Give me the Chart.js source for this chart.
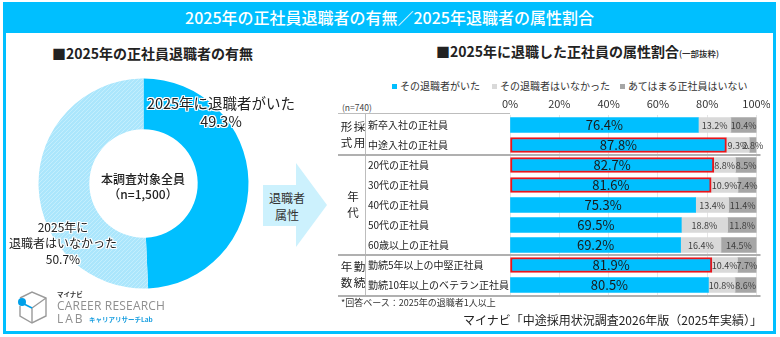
<!DOCTYPE html>
<html lang="ja">
<head>
<meta charset="utf-8">
<script src="https://cdn.jsdelivr.net/npm/chart.js@4"></script>
<style>
  body { margin: 0; width: 780px; height: 337px; position: relative; overflow: hidden; background: #fff;
         font-family: "Noto Sans CJK JP", "Noto Sans", sans-serif; color: #222; }
  .abs { position: absolute; white-space: nowrap; }
  .c { transform: translate(-50%, -50%); text-align: center; }
  .halo { text-shadow: 1px 0 #fff, -1px 0 #fff, 0 1px #fff, 0 -1px #fff, 1px 1px #fff, -1px -1px #fff, 1px -1px #fff, -1px 1px #fff; }
  #frame { left: 3px; top: 2px; width: 773px; height: 332px; box-sizing: border-box; border: 3px solid #00BFFF; }
  #titlebar { left: 3px; top: 2px; width: 773px; height: 31px; background: #00BFFF; color: #fff;
              font-size: 16px; font-weight: 500; line-height: 31px; text-align: center; }
  .leg { position: absolute; top: 78px; font-size: 10px; color: #333; line-height: 16px; white-space: nowrap; }
  .leg span.box { display: inline-block; width: 5px; height: 5px; margin-right: 3px; vertical-align: 1px; }
</style>
</head>
<body>
<div id="frame" class="abs"></div>
<div id="titlebar" class="abs">2025年の正社員退職者の有無／2025年退職者の属性割合</div>

<div class="abs" style="left:52px;top:43px;font-size:14px;font-weight:700;">■2025年の正社員退職者の有無</div>
<div class="abs" style="left:436px;top:41px;font-size:14px;font-weight:700;">■2025年に退職した正社員の属性割合<span style="font-size:8.5px;font-weight:500;">(一部抜粋)</span></div>

<canvas id="donut" class="abs" width="217" height="217" style="left:35px;top:75px;"></canvas>
<div id="lblYes" class="abs c halo" style="left:221px;top:112px;font-size:14.5px;line-height:18px;"></div>
<div id="lblNo" class="abs c halo" style="left:63px;top:243px;font-size:12px;line-height:16px;"></div>
<div class="abs c" style="left:143px;top:186px;font-size:12px;font-weight:500;line-height:15px;">本調査対象全員<br>（n=1,500）</div>

<svg class="abs" style="left:260px;top:160px;" width="72" height="92">
  <polygon points="3,25 36,25 36,3 67,45 36,87 36,66 3,66" fill="#CCF1FD"/>
</svg>
<div class="abs c" style="left:287px;top:206px;font-size:12px;line-height:17px;color:#333;">退職者<br>属性</div>

<div id="legend"></div>
<div class="abs" style="left:342px;top:101px;font-size:8.5px;color:#444;">(n=740)</div>
<canvas id="bars" class="abs" width="434" height="206" style="left:336px;top:94px;"></canvas>

<div class="abs" style="left:341px;top:296px;font-size:9px;color:#333;">*回答ベース：2025年の退職者1人以上</div>
<div class="abs" style="right:18px;top:311px;font-size:12px;color:#222;">マイナビ「中途採用状況調査2026年版（2025年実績）」</div>

<svg class="abs" style="left:14px;top:290px;" width="40" height="36">
  <polyline points="6,8 18,2 32,8 32,26 18,33 6,26 6,16" fill="none" stroke="#9a9a9a" stroke-width="1.4"/>
  <polyline points="18,33 18,18 32,8" fill="none" stroke="#9a9a9a" stroke-width="1.4"/>
  <line x1="8" y1="13" x2="18" y2="18" stroke="#00A0E9" stroke-width="1.6"/>
  <circle cx="8" cy="12" r="4" fill="#00A0E9"/>
</svg>
<div class="abs" style="left:57px;top:289px;font-size:6.5px;font-weight:700;color:#333;">マイナビ</div>
<div class="abs" style="left:57px;top:297px;font-size:12px;color:#8f8f8f;letter-spacing:0.2px;font-family:'Open Sans',sans-serif;">CAREER RESEARCH</div>
<div class="abs" style="left:57px;top:310px;font-size:12px;color:#8f8f8f;letter-spacing:2px;font-family:'Open Sans',sans-serif;">LAB</div>
<div class="abs" style="left:89px;top:314px;font-size:6.5px;font-weight:700;color:#1a9fe0;">キャリアリサーチLab</div>

<script>
// donut data
const donutLabels = ['2025年に退職者がいた', '2025年に退職者はいなかった'];
const donutValues = [49.3, 50.7];

// bar data
const categories = ['新卒入社の正社員', '中途入社の正社員', '20代の正社員', '30代の正社員', '40代の正社員',
                    '50代の正社員', '60歳以上の正社員', '勤続5年以上の中堅正社員', '勤続10年以上のベテラン正社員'];
const seriesNames = ['その退職者がいた', 'その退職者はいなかった', 'あてはまる正社員はいない'];
const hadLeaver = [76.4, 87.8, 82.7, 81.6, 75.3, 69.5, 69.2, 81.9, 80.5];
const noLeaver = [13.2, 9.3, 8.8, 10.9, 13.4, 18.8, 16.4, 10.4, 10.8];
const notApplicable = [10.4, 2.8, 8.5, 7.4, 11.4, 11.8, 14.5, 7.7, 8.6];
const highlightRows = [1, 2, 3, 7];
const xTicks = [0, 20, 40, 60, 80, 100];
const groups = [
    { rows: ['形採', '式用'], from: 0, to: 1 },
    { rows: ['年', '代'], from: 2, to: 6 },
    { rows: ['年勤', '数続'], from: 7, to: 8 }
];

const BLUE = '#00BFFF';
const colors = [BLUE, '#D9D9D9', '#A6A6A6'];
const legendLeft = [392, 492, 620];

// donut labels (html text over the canvas)
document.getElementById('lblYes').innerHTML = donutLabels[0] + '<br>' + donutValues[0].toFixed(1) + '%';
document.getElementById('lblNo').innerHTML = donutLabels[1].replace('年に', '年に<br>') + '<br>' + donutValues[1].toFixed(1) + '%';

// legend
const legend = document.getElementById('legend');
seriesNames.forEach((name, i) => {
    legend.innerHTML += `<div class="leg" style="left:${legendLeft[i]}px"><span class="box" style="background:${colors[i]}"></span>${name}</div>`;
});

// light blue hatched fill
function hatchPattern() {
    const c = document.createElement('canvas');
    c.width = 4; c.height = 4;
    const x = c.getContext('2d');
    x.fillStyle = '#ABE6FC';
    x.fillRect(0, 0, 4, 4);
    x.strokeStyle = '#C3EEFD';
    x.lineWidth = 1;
    x.beginPath();
    x.moveTo(0, 4); x.lineTo(4, 0);
    x.stroke();
    return x.createPattern(c, 'repeat');
}

new Chart(document.getElementById('donut'), {
    type: 'doughnut',
    data: {
        labels: donutLabels,
        datasets: [{
            data: donutValues,
            backgroundColor: [BLUE, hatchPattern()],
            borderWidth: 0
        }]
    },
    options: {
        responsive: false,
        animation: false,
        radius: 105,
        cutout: 56,
        plugins: { legend: { display: false }, tooltip: { enabled: false } }
    }
});

// draws separators, group labels and values
const tablePlugin = {
    id: 'tablePlugin',
    afterDatasetsDraw(chart) {
        const ctx = chart.ctx;
        const area = chart.chartArea;
        const y = chart.scales.y;
        const right = area.right + 4;
        ctx.save();

        // values
        chart.data.datasets.forEach((ds, di) => {
            const meta = chart.getDatasetMeta(di);
            meta.data.forEach((bar, i) => {
                const cx = (bar.x + bar.base) / 2;
                ctx.fillStyle = di === 0 ? '#1a1a1a' : '#404040';
                ctx.font = di === 0 ? '13px "Noto Sans CJK JP", sans-serif' : '9px "Noto Sans CJK JP", sans-serif';
                ctx.textAlign = 'center';
                ctx.textBaseline = 'middle';
                ctx.fillText(ds.data[i].toFixed(1) + '%', cx, bar.y + 0.5);
            });
        });

        // lines
        ctx.strokeStyle = '#bdbdbd';
        ctx.lineWidth = 1;
        ctx.beginPath();
        ctx.moveTo(2, area.top - 1.5); ctx.lineTo(area.left, area.top - 1.5);
        ctx.moveTo(29.5, area.top - 1.5); ctx.lineTo(29.5, area.bottom);
        ctx.stroke();

        ctx.strokeStyle = '#b0b0b0';
        ctx.lineWidth = 2;
        ctx.beginPath();
        [1, 6].forEach(i => {
            const yy = Math.round((y.getPixelForValue(i) + y.getPixelForValue(i + 1)) / 2);
            ctx.moveTo(2, yy); ctx.lineTo(right, yy);
        });
        ctx.moveTo(2, area.bottom + 1); ctx.lineTo(right, area.bottom + 1);
        ctx.stroke();

        // group labels
        ctx.fillStyle = '#222';
        ctx.font = '11.5px "Noto Sans CJK JP", sans-serif';
        ctx.textAlign = 'center';
        ctx.textBaseline = 'middle';
        groups.forEach(g => {
            const mid = (y.getPixelForValue(g.from) + y.getPixelForValue(g.to)) / 2;
            g.rows.forEach((row, r) => {
                const yy = mid + (r - (g.rows.length - 1) / 2) * 16;
                const chars = [...row];
                chars.forEach((ch, k) => {
                    ctx.fillText(ch, 17 + (k - (chars.length - 1) / 2) * 13, yy);
                });
            });
        });
        ctx.restore();
    }
};

new Chart(document.getElementById('bars'), {
    type: 'bar',
    data: {
        labels: categories,
        datasets: [
            {
                label: seriesNames[0],
                data: hadLeaver,
                backgroundColor: colors[0],
                borderColor: c => highlightRows.includes(c.dataIndex) ? '#E8151B' : colors[0],
                borderWidth: c => highlightRows.includes(c.dataIndex) ? 2 : 0,
                borderSkipped: false
            },
            { label: seriesNames[1], data: noLeaver, backgroundColor: colors[1], borderWidth: 0 },
            { label: seriesNames[2], data: notApplicable, backgroundColor: colors[2], borderWidth: 0 }
        ]
    },
    options: {
        indexAxis: 'y',
        responsive: false,
        animation: false,
        barThickness: 15,
        layout: { padding: { left: 32, right: 13.5, top: 0, bottom: 5 } },
        plugins: { legend: { display: false }, tooltip: { enabled: false } },
        scales: {
            x: {
                position: 'top',
                stacked: true,
                min: 0,
                max: 100,
                afterFit(s) { s.height = 21; s.paddingLeft = 0; s.paddingRight = 0; },
                afterBuildTicks(s) { s.ticks = xTicks.map(v => ({ value: v })); },
                grid: { color: '#e6e6e6', drawTicks: false },
                border: { display: false },
                ticks: {
                    padding: 5,
                    color: '#333',
                    font: { size: 11, family: '"Noto Sans CJK JP", sans-serif' },
                    callback: v => v + '%'
                }
            },
            y: {
                stacked: true,
                afterFit(s) { s.width = 142; s.paddingTop = 0; s.paddingBottom = 0; },
                grid: { display: false },
                border: { display: false },
                ticks: {
                    crossAlign: 'far',
                    padding: 0,
                    color: '#222',
                    font: { size: 10, family: '"Noto Sans CJK JP", sans-serif' }
                }
            }
        }
    },
    plugins: [tablePlugin]
});
</script>
</body>
</html>
